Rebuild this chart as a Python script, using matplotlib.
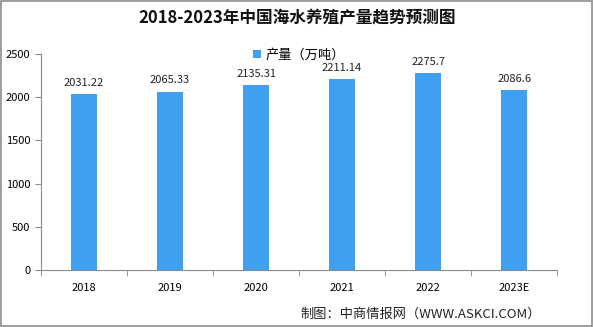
import matplotlib.pyplot as plt
from matplotlib.patches import Rectangle

plt.rcParams['font.family'] = ['Noto Sans CJK SC', 'DejaVu Sans']

years = ['2018', '2019', '2020', '2021', '2022', '2023E']
output = [2031.22, 2065.33, 2135.31, 2211.14, 2275.7, 2086.6]
labels = ['2031.22', '2065.33', '2135.31', '2211.14', '2275.7', '2086.6']
yticks = [0, 500, 1000, 1500, 2000, 2500]

bar_color = '#3FA0F2'
axis_color = '#8C8C8C'

fig = plt.figure(figsize=(5.94, 3.27), dpi=100)
ax = fig.add_axes([0.069, 0.174, 0.869, 0.661])

x = range(len(years))
bars = ax.bar(x, output, width=0.31, color=bar_color, label='产量（万吨）')
for b, t in zip(bars, labels):
    ax.text(b.get_x() + b.get_width() / 2, b.get_height() + 70, t,
            ha='center', va='bottom', fontsize=8, color='#222222')

ax.set_xlim(-0.5, len(years) - 0.5)
ax.set_ylim(0, 2500)
ax.set_yticks(yticks)
ax.set_xticks(x)
ax.set_xticklabels(years, fontsize=8)
ax.set_xticks([i + 0.5 for i in range(-1, len(years))], minor=True)
ax.tick_params(axis='x', which='major', length=0, pad=9)
ax.tick_params(axis='x', which='minor', length=4, color=axis_color)
ax.tick_params(axis='y', labelsize=8, length=4, color=axis_color)
for s in ['top', 'right']:
    ax.spines[s].set_visible(False)
for s in ['left', 'bottom']:
    ax.spines[s].set_color(axis_color)

ax.legend(loc='upper center', bbox_to_anchor=(0.5, 1.08), frameon=False,
          fontsize=9.5, handlelength=0.6, handleheight=0.6, handletextpad=0.3)

fig.text(0.5, 0.945, '2018-2023年中国海水养殖产量趋势预测图', ha='center', va='center',
         fontsize=12, fontweight='bold', color='#111111')
fig.text(0.505, 0.04, '制图：中商情报网（WWW.ASKCI.COM）', ha='left', va='center',
         fontsize=9.5, color='#222222')

fig.patches.append(Rectangle((0.002, 0.003), 0.995, 0.994, transform=fig.transFigure,
                             fill=False, edgecolor='#8C8C8C', linewidth=1.2))

fig.savefig('out.png', dpi=100)
